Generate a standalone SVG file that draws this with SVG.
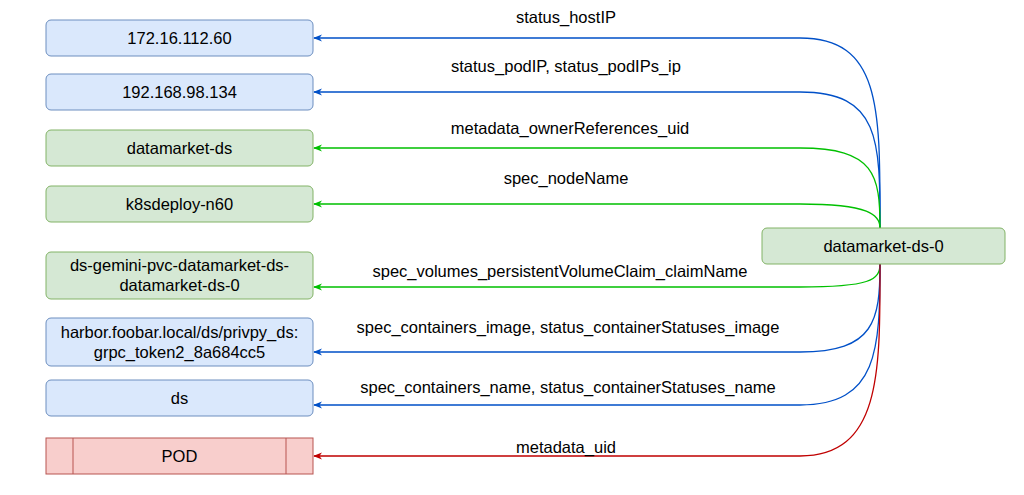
<svg xmlns="http://www.w3.org/2000/svg" width="1024" height="495" viewBox="0 0 1024 495">
<defs>
<style>
text{font-family:"Liberation Sans",Arial,sans-serif;font-size:16.5px;fill:#000;text-anchor:middle}
.b{fill:#dae8fc;stroke:#6c8ebf}
.g{fill:#d5e8d4;stroke:#82b366}
.r{fill:#f8cecc;stroke:#b85450}
.eb{fill:none;stroke:#0050c8;stroke-width:1.3}
.eg{fill:none;stroke:#00c000;stroke-width:1.3}
.er{fill:none;stroke:#c00000;stroke-width:1.3}
</style>
<marker id="mb" viewBox="0 0 10 10" refX="9" refY="5" markerWidth="7" markerHeight="7" orient="auto"><path d="M0,1 L10,5 L0,9 L3,5z" fill="#0050c8"/></marker>
<marker id="mg" viewBox="0 0 10 10" refX="9" refY="5" markerWidth="7" markerHeight="7" orient="auto"><path d="M0,1 L10,5 L0,9 L3,5z" fill="#00c000"/></marker>
<marker id="mr" viewBox="0 0 10 10" refX="9" refY="5" markerWidth="7" markerHeight="7" orient="auto"><path d="M0,1 L10,5 L0,9 L3,5z" fill="#c00000"/></marker>
</defs>
<rect width="1024" height="495" fill="#fff"/>
<g id="connectors">
<path class="eb" marker-end="url(#mb)" d="M880,228 C880,110 882,38 800,38 L314,38"/>
<path class="eb" marker-end="url(#mb)" d="M880,228 C880,140 880,92 800,92 L314,92"/>
<path class="eg" marker-end="url(#mg)" d="M880,228 C880,175 875,148 800,148 L314,148"/>
<path class="eg" marker-end="url(#mg)" d="M880,228 C880,215 870,204 800,204 L314,204"/>
<path class="eg" marker-end="url(#mg)" d="M880,264 C880,280 870,287 800,287 L314,287"/>
<path class="eb" marker-end="url(#mb)" d="M880,264 C880,320 875,352 800,352 L314,352"/>
<path class="eb" marker-end="url(#mb)" d="M880,264 C880,350 878,405 800,405 L314,405"/>
<path class="er" marker-end="url(#mr)" d="M880,264 C880,370 882,456 800,456 L314,456"/>
<text x="566" y="23">status_hostIP</text>
<text x="566" y="72">status_podIP, status_podIPs_ip</text>
<text x="570" y="134">metadata_ownerReferences_uid</text>
<text x="566" y="184">spec_nodeName</text>
<text x="560" y="277">spec_volumes_persistentVolumeClaim_claimName</text>
<text x="568" y="333">spec_containers_image, status_containerStatuses_image</text>
<text x="568" y="393">spec_containers_name, status_containerStatuses_name</text>
<text x="566" y="453">metadata_uid</text>
</g>
<g id="n1"><rect class="b" x="46" y="20" width="267" height="36" rx="5"/><text x="179.5" y="44">172.16.112.60</text></g>
<g id="n2"><rect class="b" x="46" y="74" width="267" height="36" rx="5"/><text x="179.5" y="98">192.168.98.134</text></g>
<g id="n3"><rect class="g" x="46" y="130" width="267" height="36" rx="5"/><text x="179.5" y="154">datamarket-ds</text></g>
<g id="n4"><rect class="g" x="46" y="186" width="267" height="36" rx="5"/><text x="179.5" y="210">k8sdeploy-n60</text></g>
<g id="n5"><rect class="g" x="46" y="252" width="267" height="47" rx="5"/><text x="179.5" y="271">ds-gemini-pvc-datamarket-ds-</text><text x="179.5" y="291">datamarket-ds-0</text></g>
<g id="n6"><rect class="b" x="46" y="318" width="267" height="48" rx="5"/><text x="179.5" y="338">harbor.foobar.local/ds/privpy_ds:</text><text x="179.5" y="358">grpc_token2_8a684cc5</text></g>
<g id="n7"><rect class="b" x="46" y="380" width="267" height="36" rx="5"/><text x="179.5" y="404">ds</text></g>
<g id="n8"><rect class="r" x="46" y="438" width="267" height="36"/><line x1="73" y1="438" x2="73" y2="474" stroke="#b85450"/><line x1="286" y1="438" x2="286" y2="474" stroke="#b85450"/><text x="179.5" y="462">POD</text></g>
<g id="n9"><rect class="g" x="762" y="228" width="243" height="36" rx="5"/><text x="883.5" y="252">datamarket-ds-0</text></g>
</svg>
